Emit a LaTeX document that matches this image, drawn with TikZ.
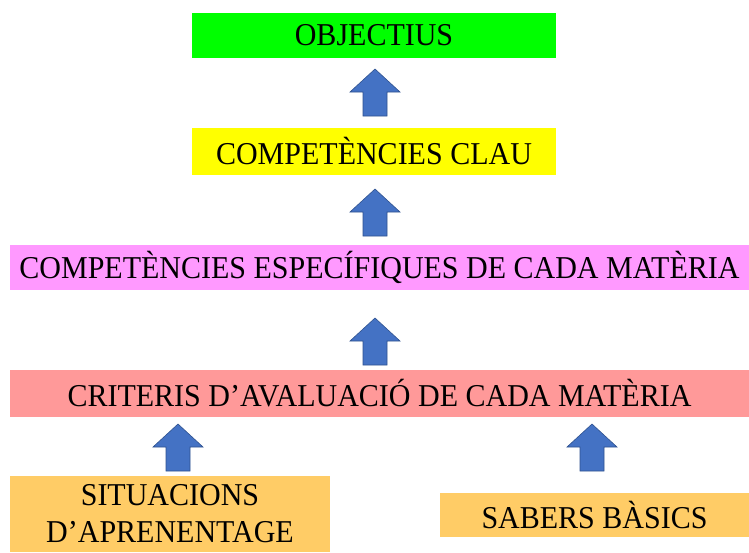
\documentclass[tikz,border=0pt]{standalone}
\usepackage{fontspec}
\usepackage{graphicx}
\setmainfont{Liberation Serif}
\definecolor{cgreen}{HTML}{00FF00}
\definecolor{cyellow}{HTML}{FFFF00}
\definecolor{cpink}{HTML}{FF99FF}
\definecolor{csalmon}{HTML}{FF9999}
\definecolor{corange}{HTML}{FFCC66}
\definecolor{arrblue}{HTML}{4472C4}
\definecolor{arrline}{HTML}{2F528F}
\newcommand\vstr[1]{\scalebox{1}[1.06]{#1}}
\begin{document}
\begin{tikzpicture}[x=1pt,y=-1pt,
  box/.style={draw=none,inner sep=0pt,align=center,text=black,
    font=\fontsize{30}{37}\selectfont},
  uparrow/.pic={\path[fill=arrblue,draw=arrline,line width=0.6pt]
    (0,0) -- (25,23) -- (12,23) -- (12,47) -- (-12,47) -- (-12,23) -- (-25,23) -- cycle;}]
\useasboundingbox (0,0) rectangle (749,552);
\fill[white] (0,0) rectangle (749,552);
\node[box,fill=cgreen,minimum width=364pt,minimum height=45pt] (obj) at (374,35.5) {\vstr{OBJECTIUS}};
\node[box,fill=cyellow,minimum width=364pt,minimum height=47pt] (clau) at (374,151.5) {\vstr{COMPETÈNCIES CLAU}};
\node[box,fill=cpink,minimum width=739pt,minimum height=45pt] (esp) at (379.5,267.5) {\vstr{COMPETÈNCIES ESPECÍFIQUES DE CADA MATÈRIA}};
\node[box,fill=csalmon,minimum width=739pt,minimum height=47pt] (crit) at (379.5,393.5) {\vstr{CRITERIS D’AVALUACIÓ DE CADA MATÈRIA}};
\node[box,fill=corange,minimum width=320pt,minimum height=76pt] (sit) at (170,514) {\vstr{SITUACIONS}\\\vstr{D’APRENENTAGE}};
\node[box,fill=corange,minimum width=309pt,minimum height=44pt] (sab) at (594.5,515) {\vstr{SABERS BÀSICS}};
\pic at (375,69) {uparrow};
\pic at (375,189) {uparrow};
\pic at (375,318) {uparrow};
\pic at (178,424) {uparrow};
\pic at (592,424) {uparrow};
\end{tikzpicture}
\end{document}
